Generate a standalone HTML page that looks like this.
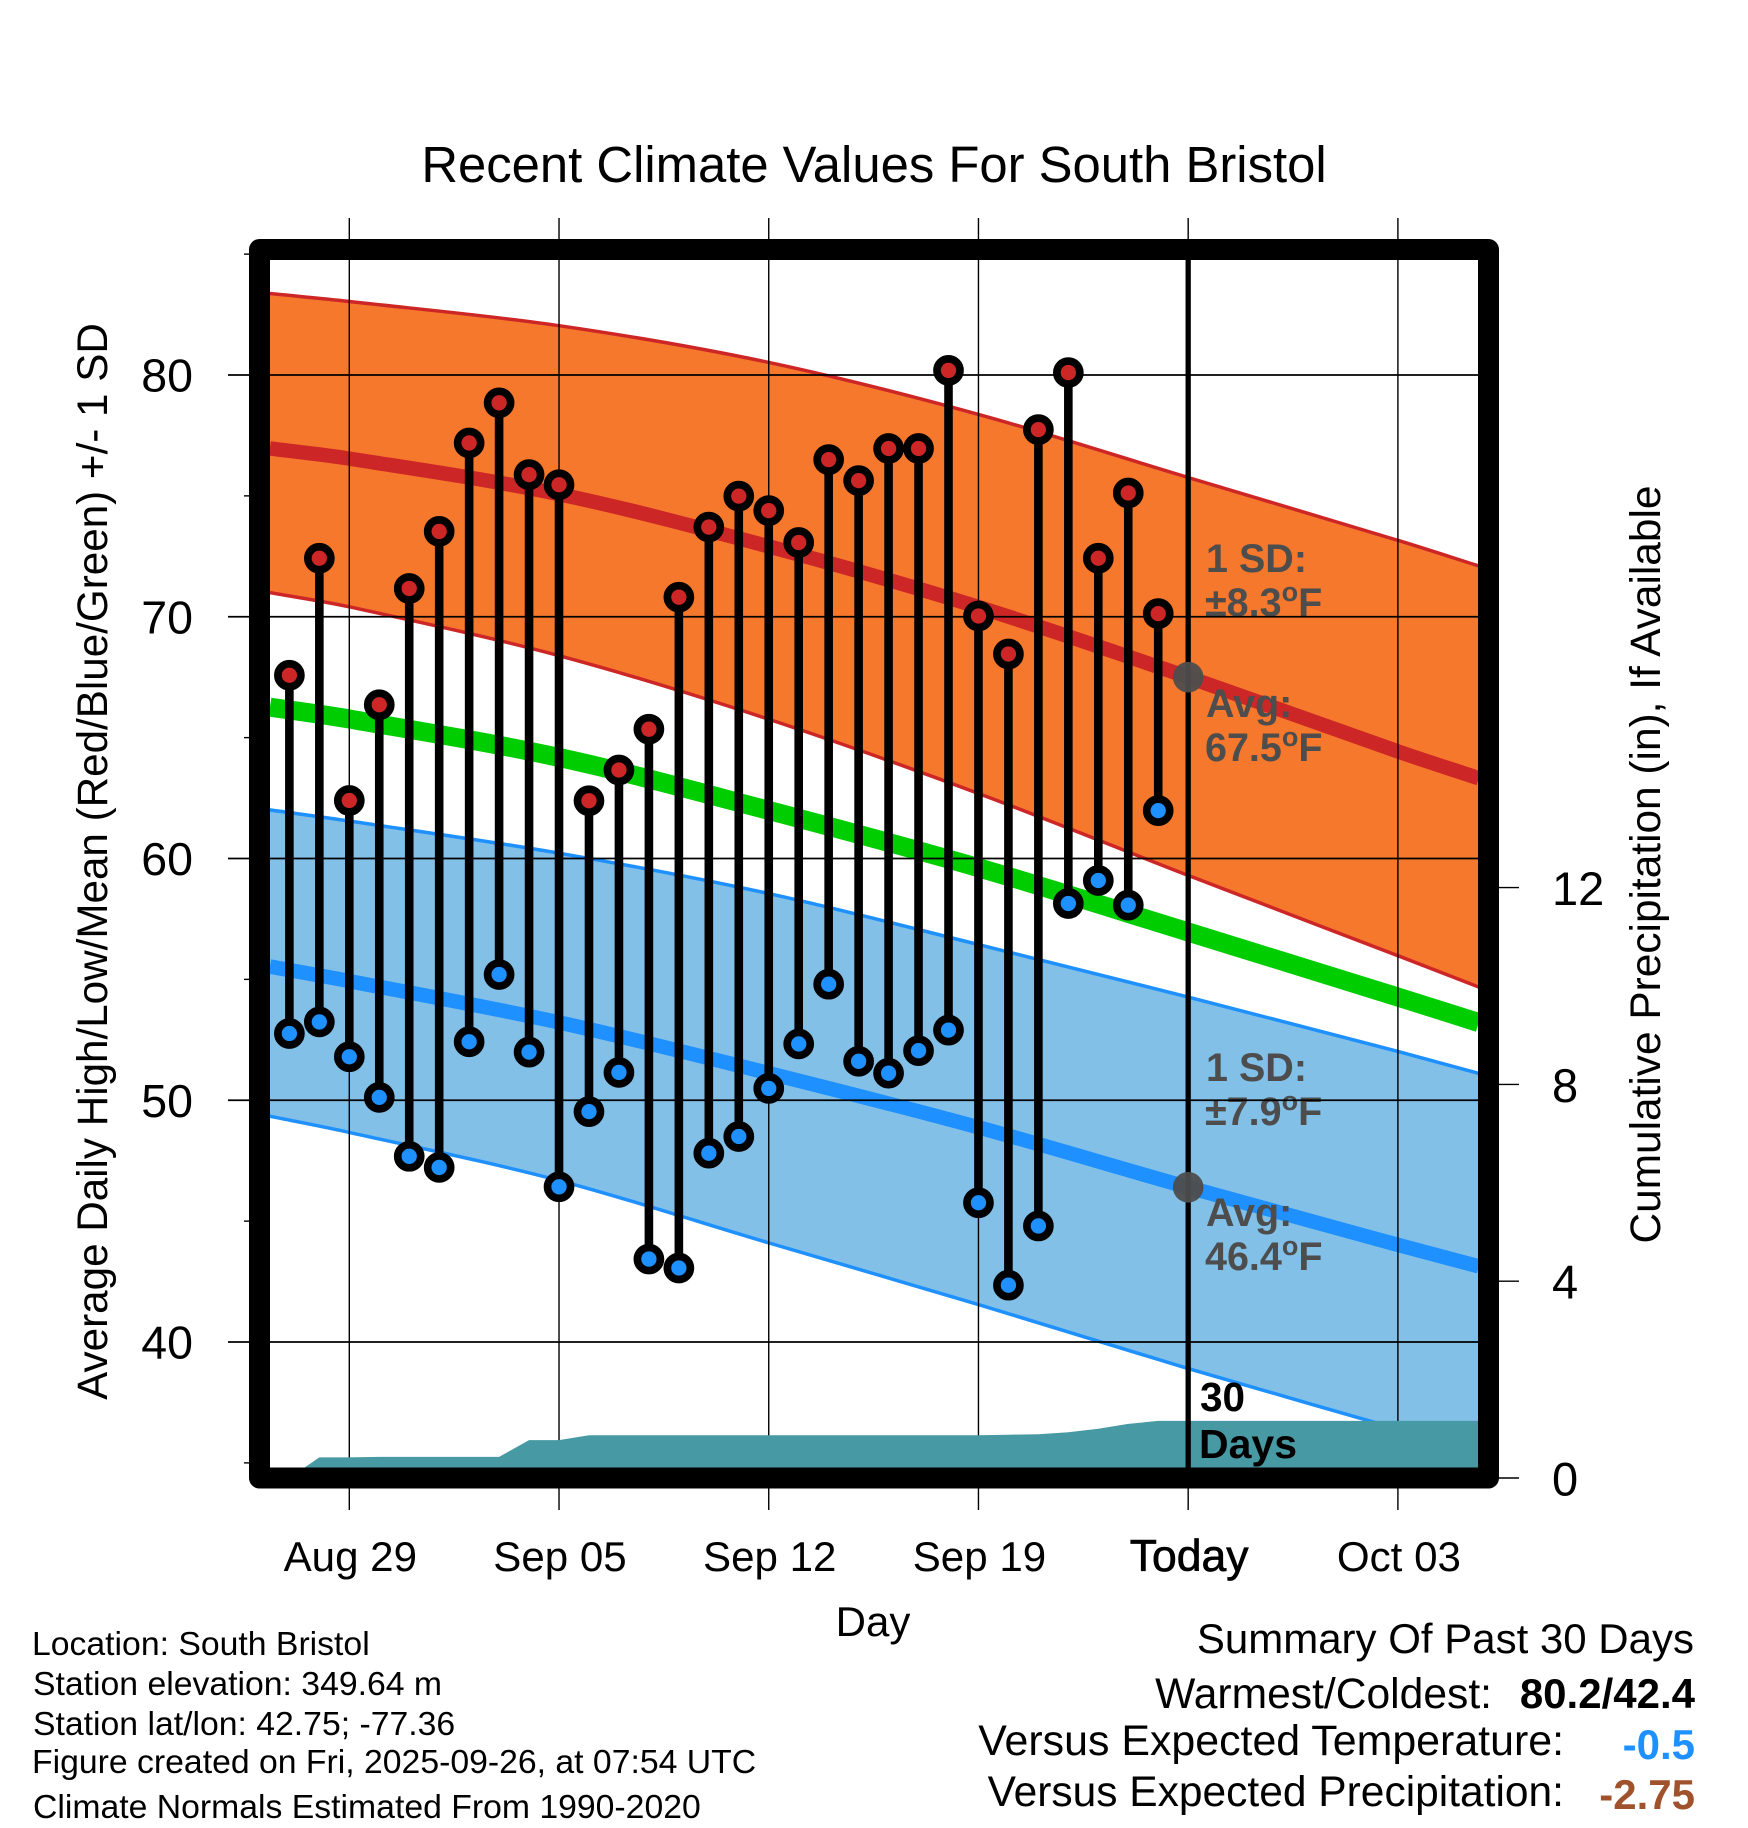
<!DOCTYPE html>
<html lang="en">
<head>
<meta charset="utf-8">
<title>Recent Climate Values For South Bristol</title>
<style>
html,body{margin:0;padding:0;background:#fff;}
svg{display:block;}
text{font-family:"Liberation Sans",Arial,sans-serif;fill:#000;}
.b{font-weight:bold;}
.ann{font-weight:bold;fill:#4d4d4d;font-size:39.5px;}
</style>
</head>
<body>
<svg id="chart" xmlns="http://www.w3.org/2000/svg" width="1748" height="1828" viewBox="0 0 1748 1828">
  <defs>
    <clipPath id="plot-clip"><rect x="270" y="260" width="1208" height="1208"/></clipPath>
  </defs>
  <rect x="0" y="0" width="1748" height="1828" fill="#fff"/>
  <text x="874" y="182" font-size="50.8" text-anchor="middle">Recent Climate Values For South Bristol</text>
  <text transform="translate(107,861.5) rotate(-90)" font-size="42.2" text-anchor="middle">Average Daily High/Low/Mean (Red/Blue/Green) +/- 1 SD</text>
  <text transform="translate(1660,864.5) rotate(-90)" font-size="42.4" text-anchor="middle">Cumulative Precipitation (in), If Available</text>
  <text x="873" y="1636" font-size="42" text-anchor="middle">Day</text>

  <g id="bands-layer" clip-path="url(#plot-clip)"></g>
  <g id="annotation-layer">
    <text class="ann" x="1206" y="572">1 SD:</text>
    <text class="ann" x="1205" y="616">±8.3<tspan dy="-15" font-size="27">o</tspan><tspan dy="15">F</tspan></text>
    <text class="ann" x="1206" y="717">Avg:</text>
    <text class="ann" x="1205" y="761">67.5<tspan dy="-15" font-size="27">o</tspan><tspan dy="15">F</tspan></text>
    <text class="ann" x="1206" y="1081">1 SD:</text>
    <text class="ann" x="1205" y="1125">±7.9<tspan dy="-15" font-size="27">o</tspan><tspan dy="15">F</tspan></text>
    <text class="ann" x="1206" y="1226">Avg:</text>
    <text class="ann" x="1205" y="1270">46.4<tspan dy="-15" font-size="27">o</tspan><tspan dy="15">F</tspan></text>
  </g>
  <g id="grid-layer"></g>
  <g id="precip-layer" clip-path="url(#plot-clip)"></g>
  <text class="b" x="1200" y="1411" font-size="40.5">30</text>
  <text class="b" x="1199" y="1458" font-size="41">Days</text>
  <g id="marks-layer"></g>
  <rect x="259.5" y="249.5" width="1229" height="1228.5" fill="none" stroke="#000" stroke-width="21" stroke-linejoin="round"/>
  <g id="labels-layer"></g>

  <g font-size="33.75">
    <text x="32" y="1655">Location: South Bristol</text>
    <text x="33" y="1695">Station elevation: 349.64 m</text>
    <text x="33" y="1735">Station lat/lon: 42.75; -77.36</text>
    <text x="32" y="1773">Figure created on Fri, 2025-09-26, at 07:54 UTC</text>
    <text x="33" y="1818">Climate Normals Estimated From 1990-2020</text>
  </g>
  <g font-size="42">
    <text x="1694" y="1653" text-anchor="end">Summary Of Past 30 Days</text>
    <text x="1492" y="1708" text-anchor="end" font-size="42.6">Warmest/Coldest:</text>
    <text class="b" x="1695" y="1708" text-anchor="end">80.2/42.4</text>
    <text x="1564" y="1755" text-anchor="end" font-size="42.9">Versus Expected Temperature:</text>
    <text class="b" x="1695" y="1759" text-anchor="end" style="fill:#1e90ff">-0.5</text>
    <text x="1564" y="1806" text-anchor="end" font-size="42.5">Versus Expected Precipitation:</text>
    <text class="b" x="1695" y="1809" text-anchor="end" style="fill:#a0522d">-2.75</text>
  </g>
</svg>
<script>
// Daily observations, index 0 = Aug 27
const highs = [67.58,72.42,62.40,66.36,71.17,73.53,77.19,78.85,75.88,75.46,62.39,63.66,65.35,70.81,73.71,74.99,74.39,73.07,76.50,75.63,76.96,76.96,80.19,70.03,68.46,77.74,80.10,72.42,75.12,70.13];
const lows = [52.76,53.24,51.80,50.12,47.68,47.22,52.42,55.20,51.99,46.42,49.53,51.15,43.43,43.06,47.81,48.50,50.49,52.33,54.80,51.61,51.12,52.05,52.90,45.76,42.35,44.80,58.14,59.09,58.07,61.98];
const precip = [0,0.42,0.42,0.43,0.43,0.43,0.43,0.43,0.77,0.77,0.87,0.87,0.87,0.87,0.87,0.87,0.87,0.87,0.87,0.87,0.87,0.87,0.87,0.87,0.88,0.89,0.93,1.0,1.1,1.16,1.16,1.16,1.16,1.16,1.16,1.16,1.16,1.16,1.16,1.16,1.16];

// Climate normals read at these days
const normalDays = [-0.65,2,9,16,23,30,37,39.7];
const highUpper = [83.37,83.04,82.04,80.52,78.37,75.76,73.16,72.1];
const highMean = [76.96,76.54,75.07,72.91,70.4,67.5,64.43,63.32];
const highLower = [71.0,70.41,68.39,65.76,62.69,59.3,55.98,54.68];
const meanLine = [66.26,65.77,64.18,61.99,59.62,56.96,54.27,53.21];
const lowUpper = [62.01,61.55,60.22,58.55,56.44,54.27,52.02,51.11];
const lowMean = [55.53,54.93,53.22,51.12,48.88,46.4,44.02,43.13];
const lowLower = [49.34,48.67,46.68,44.1,41.55,38.9,36.4,35.4];
const todayHigh = 67.5;
const todayLow = 46.4;
const todayDay = 30;

// Axis ticks
const xTickDays = [2,9,16,23,30,37];
const xTickLabels = ["Aug 29","Sep 05","Sep 12","Sep 19","Today","Oct 03"];
const yTicks = [40,50,60,70,80];
const yMinorTicks = [35,45,55,65,75,85];
const precipTicks = [0,4,8,12];

const NS = "http://www.w3.org/2000/svg";
function xScale(d){ return 349.3 + (d - 2) * 29.96; }
function yScale(t){ return 375 + (80 - t) * 24.175; }
function pScale(v){ return 1478 - v * 49.2; }

function mk(tag, parent, attrs){
  const el = document.createElementNS(NS, tag);
  for (const k in attrs) el.setAttribute(k, attrs[k]);
  parent.appendChild(el);
  return el;
}

// Smooth path through the normals, forward or reversed
function curve(days, vals, reverse, moveFirst){
  const pts = days.map((d,i)=>[xScale(d), yScale(vals[i])]);
  const n = pts.length;
  const slope = pts.map((p,i)=>{
    const a = pts[Math.max(0,i-1)], b = pts[Math.min(n-1,i+1)];
    return (b[1]-a[1])/(b[0]-a[0]);
  });
  let s = "";
  if (!reverse){
    s += (moveFirst ? "M" : "L") + pts[0][0].toFixed(2) + " " + pts[0][1].toFixed(2);
    for (let i=0;i<n-1;i++){
      const dx = (pts[i+1][0]-pts[i][0])/3;
      s += " C" + (pts[i][0]+dx).toFixed(2) + " " + (pts[i][1]+slope[i]*dx).toFixed(2) + " " +
           (pts[i+1][0]-dx).toFixed(2) + " " + (pts[i+1][1]-slope[i+1]*dx).toFixed(2) + " " +
           pts[i+1][0].toFixed(2) + " " + pts[i+1][1].toFixed(2);
    }
  } else {
    s += (moveFirst ? "M" : "L") + pts[n-1][0].toFixed(2) + " " + pts[n-1][1].toFixed(2);
    for (let i=n-1;i>0;i--){
      const dx = (pts[i][0]-pts[i-1][0])/3;
      s += " C" + (pts[i][0]-dx).toFixed(2) + " " + (pts[i][1]-slope[i]*dx).toFixed(2) + " " +
           (pts[i-1][0]+dx).toFixed(2) + " " + (pts[i-1][1]+slope[i-1]*dx).toFixed(2) + " " +
           pts[i-1][0].toFixed(2) + " " + pts[i-1][1].toFixed(2);
    }
  }
  return s;
}

const bands = document.getElementById("bands-layer");
const grid = document.getElementById("grid-layer");
const precipLayer = document.getElementById("precip-layer");
const marks = document.getElementById("marks-layer");
const labels = document.getElementById("labels-layer");

// Bands and normal lines
const highBand = mk("path", bands, {d: curve(normalDays, highUpper, false, true) + " " + curve(normalDays, highLower, true, false) + " Z", fill:"#f6782c"});


const lowBand = mk("path", bands, {d: curve(normalDays, lowUpper, false, true) + " " + curve(normalDays, lowLower, true, false) + " Z", fill:"#82c0e8"});



const highUpperLine = mk("path", bands, {d: curve(normalDays, highUpper, false, true), fill:"none", stroke:"#cd2626", "stroke-width":3.5});


const highLowerLine = mk("path", bands, {d: curve(normalDays, highLower, false, true), fill:"none", stroke:"#cd2626", "stroke-width":3.5});


const lowUpperLine = mk("path", bands, {d: curve(normalDays, lowUpper, false, true), fill:"none", stroke:"#1e90ff", "stroke-width":3.5});


const lowLowerLine = mk("path", bands, {d: curve(normalDays, lowLower, false, true), fill:"none", stroke:"#1e90ff", "stroke-width":3.5});


const highMeanLine = mk("path", bands, {d: curve(normalDays, highMean, false, true), fill:"none", stroke:"#cd2626", "stroke-width":14.5});


const lowMeanLine = mk("path", bands, {d: curve(normalDays, lowMean, false, true), fill:"none", stroke:"#1e90ff", "stroke-width":14.5});


const greenLine = mk("path", bands, {d: curve(normalDays, meanLine, false, true), fill:"none", stroke:"#00cd00", "stroke-width":19});



// Gridlines and ticks
yTicks.forEach(t => {
  const l = mk("line", grid, {x1:228, x2:1478, y1:yScale(t), y2:yScale(t), stroke:"#000", "stroke-width":1.8});
  
  
  const lab = mk("text", labels, {x:193, y:yScale(t)+16.5, "font-size":46.5, "text-anchor":"end"});
  lab.textContent = String(t);
  
  
});
yMinorTicks.forEach(t => {
  const l = mk("line", grid, {x1:244, x2:252, y1:yScale(t), y2:yScale(t), stroke:"#000", "stroke-width":1.4});
  
  
});
xTickDays.forEach((d,i) => {
  const l = mk("line", grid, {x1:xScale(d), x2:xScale(d), y1:218, y2:1510, stroke:"#000", "stroke-width":1.4});
  
  
  const isToday = xTickLabels[i] === "Today";
  const lab = mk("text", labels, {x:xScale(d)+1, y:1571, "font-size": isToday ? 44.5 : 42.1, "text-anchor":"middle"});
  lab.textContent = xTickLabels[i];
  if (isToday) { lab.setAttribute("stroke", "#000"); lab.setAttribute("stroke-width", "0.7"); }
  
  
});
precipTicks.forEach(v => {
  const l = mk("line", grid, {x1:1490, x2:1519, y1:pScale(v), y2:pScale(v), stroke:"#000", "stroke-width":1.4});
  
  
  const lab = mk("text", labels, {x:1552, y:pScale(v)+17.5, "font-size":47});
  lab.textContent = String(v);
  
  
});

// Cumulative precipitation area
let pd = "M" + xScale(0).toFixed(2) + " " + pScale(0).toFixed(2);
precip.forEach((v,i) => { pd += " L" + xScale(i).toFixed(2) + " " + pScale(v).toFixed(2); });
pd += " L" + xScale(precip.length-1).toFixed(2) + " " + pScale(0).toFixed(2) + " Z";
const area = mk("path", precipLayer, {d: pd, fill:"#4799a3"});



// Today line
const todayLine = mk("line", marks, {x1:xScale(todayDay), x2:xScale(todayDay), y1:255, y2:1470, stroke:"#000", "stroke-width":5.3});



// Daily stems and dots
highs.forEach((h,i) => {
  const x = xScale(i);
  const stem = mk("line", marks, {x1:x, x2:x, y1:yScale(h), y2:yScale(lows[i]), stroke:"#000", "stroke-width":8.6});
  
  
});
highs.forEach((h,i) => {
  const dot = mk("circle", marks, {cx:xScale(i), cy:yScale(h), r:11.5, fill:"#cd2626", stroke:"#000", "stroke-width":7.7});
  
  
});
lows.forEach((l,i) => {
  const dot = mk("circle", marks, {cx:xScale(i), cy:yScale(l), r:11.5, fill:"#1e90ff", stroke:"#000", "stroke-width":7.7});
  
  
});

// Today's normal markers
const todayHighDot = mk("circle", marks, {cx:xScale(todayDay), cy:yScale(todayHigh), r:15.3, fill:"#4d4d4d", "fill-opacity":0.95});


const todayLowDot = mk("circle", marks, {cx:xScale(todayDay), cy:yScale(todayLow), r:15.3, fill:"#4d4d4d", "fill-opacity":0.95});


</script>
</body>
</html>
